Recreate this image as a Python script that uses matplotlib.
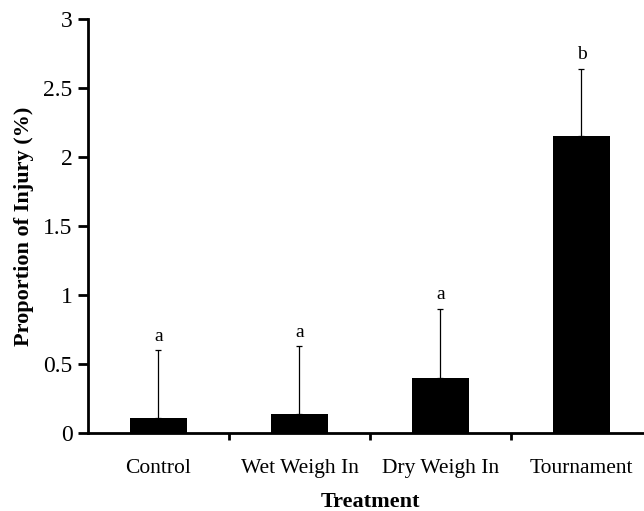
import matplotlib.pyplot as plt
import numpy as np

plt.rcParams['font.family'] = ['Liberation Serif', 'DejaVu Serif']

treatments = ["Control", "Wet Weigh In", "Dry Weigh In", "Tournament"]
injury = [0.11, 0.14, 0.40, 2.15]
upper_err = [0.49, 0.49, 0.50, 0.49]
letters = ["a", "a", "a", "b"]

fig = plt.figure(figsize=(6.44, 5.11), dpi=100)
ax = fig.add_axes([0.1366, 0.1526, 0.8758, 0.8102])

x = np.arange(len(treatments))
ax.bar(x, injury, width=0.4, color="black")
ax.errorbar(x, injury, yerr=[np.zeros(len(x)), upper_err], fmt="none",
            ecolor="black", elinewidth=0.9, capsize=2.5, capthick=0.9)
for xi, v, e, lab in zip(x, injury, upper_err, letters):
    ax.text(xi, v + e + 0.04, lab, ha="center", va="bottom", fontsize=14)

ax.set_xlim(-0.5, 3.5)
ax.set_ylim(0, 3)
ax.set_yticks([0, 0.5, 1, 1.5, 2, 2.5, 3])
ax.set_yticklabels(["0", "0.5", "1", "1.5", "2", "2.5", "3"])
ax.set_xticks([0.5, 1.5, 2.5], minor=False)
ax.set_xticklabels([])
ax.set_xticks(x, minor=True)
ax.set_xticklabels(treatments, minor=True)
ax.tick_params(axis="x", which="major", direction="out", length=5, width=2)
ax.tick_params(axis="x", which="minor", length=0, pad=19, labelsize=15.5)
ax.tick_params(axis="y", direction="out", length=7, width=2, labelsize=17, pad=4)

for s in ["top", "right"]:
    ax.spines[s].set_visible(False)
for s in ["left", "bottom"]:
    ax.spines[s].set_linewidth(2)

ax.set_xlabel("Treatment", fontsize=16, fontweight="bold", labelpad=10)
ax.set_ylabel("Proportion of Injury (%)", fontsize=16, fontweight="bold", labelpad=7)

fig.savefig("out.png", dpi=100)
